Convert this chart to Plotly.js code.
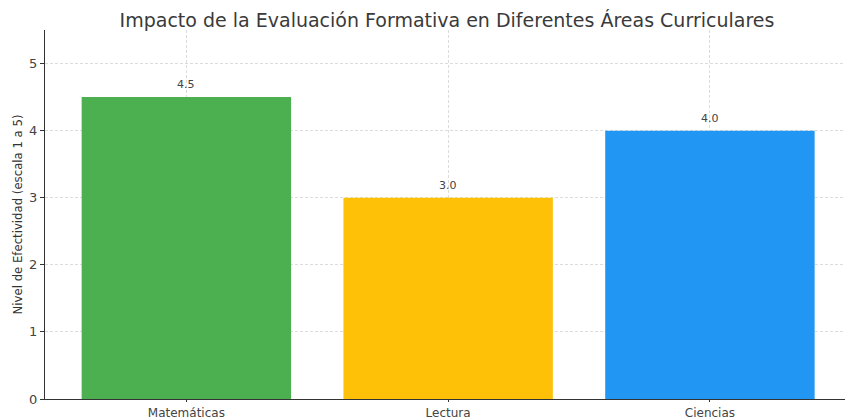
<!DOCTYPE html>
<html>
<head>
<meta charset="utf-8">
<script src="https://cdn.plot.ly/plotly-3.0.1.min.js"></script>
<style>html,body{margin:0;padding:0;background:#fff;}#chart{width:845px;height:419px;}</style>
</head>
<body>
<div id="chart"></div>
<script>
const categories = ["Matemáticas", "Lectura", "Ciencias"];
const values = [4.5, 3.0, 4.0];
const barColors = ["#4CAF50", "#FFC107", "#2196F3"];
const valueLabels = ["4.5", "3.0", "4.0"];
const yTicks = [0, 1, 2, 3, 4, 5];

const font = "DejaVu Sans, sans-serif";

const trace = {
  type: "bar",
  x: categories,
  y: values,
  width: 0.8,
  marker: {color: barColors, line: {width: 0}},
  hoverinfo: "none"
};

const annotations = categories.map((c, i) => ({
  x: c, y: values[i], text: valueLabels[i],
  xref: "x", yref: "y", showarrow: false,
  yanchor: "bottom", yshift: 4,
  font: {family: font, size: 11, color: "#444"}
}));

const layout = {
  width: 845, height: 419,
  margin: {l: 45, r: 0, t: 30, b: 20, pad: 0},
  paper_bgcolor: "#fff", plot_bgcolor: "#fff",
  title: {text: "Impacto de la Evaluación Formativa en Diferentes Áreas Curriculares",
          font: {family: font, size: 19, color: "#3a3a3a"},
          x: 0.529, xanchor: "center", y: 0.952, yanchor: "middle"},
  xaxis: {
    range: [-0.54, 2.516], automargin: false,
    showgrid: true, gridcolor: "#dcdcdc", griddash: "3px,2px", gridwidth: 1,
    showline: true, linecolor: "#333", linewidth: 1.2,
    ticks: "outside", ticklen: 2, tickcolor: "#333",
    tickfont: {family: font, size: 12, color: "#444"},
    zeroline: false
  },
  yaxis: {
    range: [0, 5.5], automargin: false,
    tickvals: yTicks, ticktext: yTicks.map(String),
    showgrid: true, gridcolor: "#dcdcdc", griddash: "3px,2px", gridwidth: 1,
    showline: true, linecolor: "#333", linewidth: 1.2,
    ticks: "outside", ticklen: 4, tickcolor: "#333",
    tickfont: {family: font, size: 13, color: "#444"},
    zeroline: false,
    title: {text: "Nivel de Efectividad (escala 1 a 5)", standoff: 3,
            font: {family: "DejaVu Sans Condensed, " + font, size: 13, color: "#333"}}
  },
  annotations: annotations,
  showlegend: false
};

Plotly.newPlot("chart", [trace], layout, {displayModeBar: false, staticPlot: true});
</script>
</body>
</html>
